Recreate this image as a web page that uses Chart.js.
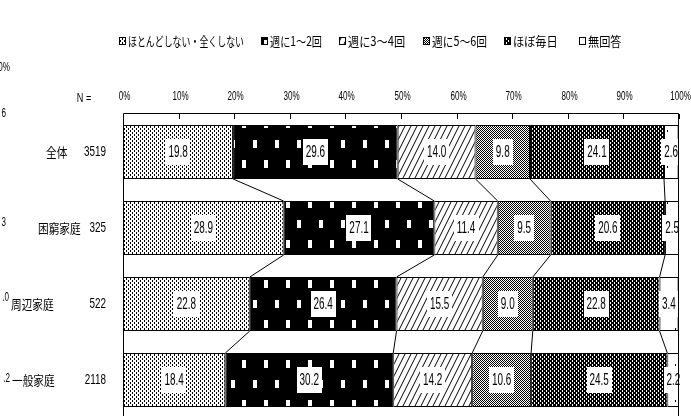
<!DOCTYPE html>
<html>
<head>
<meta charset="utf-8">
<script src="https://cdn.jsdelivr.net/npm/chart.js@4.4.1/dist/chart.umd.min.js"></script>
<style>
html,body{margin:0;padding:0;background:#fff;overflow:hidden}
#wrap{width:691px;height:420px}
</style>
</head>
<body>
<div id="wrap"><canvas id="c" width="691" height="420"></canvas></div>
<script>
// ---- data ----
const categories = ['全体', '困窮家庭', '周辺家庭', '一般家庭'];
const sampleSizes = ['3519', '325', '522', '2118'];
const seriesNames = ['ほとんどしない・全くしない', '週に1～2回', '週に3～4回', '週に5～6回', 'ほぼ毎日', '無回答'];
const neverValues    = [19.8, 28.9, 22.8, 18.4];
const weekly12Values = [29.6, 27.1, 26.4, 30.2];
const weekly34Values = [14.0, 11.4, 15.5, 14.2];
const weekly56Values = [9.8, 9.5, 9.0, 10.6];
const dailyValues    = [24.1, 20.6, 22.8, 24.5];
const noAnswerValues = [2.6, 2.5, 3.4, 2.2];
const tickValues = [0, 10, 20, 30, 40, 50, 60, 70, 80, 90, 100];
const sampleHeader = 'N =';
const edgeFragments = ['0%', '6', '3', '.0', '.2'];

const LATIN = "'Liberation Sans', Arial, sans-serif";
const JP = "'Noto Sans CJK JP', sans-serif";

const mainCtx = document.getElementById('c').getContext('2d');
function makePattern(w, h, bg, fg, paint) {
  const c = document.createElement('canvas');
  c.width = w; c.height = h;
  const g = c.getContext('2d');
  g.fillStyle = bg; g.fillRect(0, 0, w, h);
  g.fillStyle = fg; g.strokeStyle = fg;
  paint(g);
  return mainCtx.createPattern(c, 'repeat');
}
const patterns = [
  makePattern(4, 4, '#fff', '#000', g => { g.fillRect(0, 0, 1, 2); g.fillRect(2, 2, 1, 2); }),
  makePattern(22, 40, '#000', '#fff', g => { g.fillRect(0, 0, 4, 8); g.fillRect(11, 20, 4, 8); }),
  makePattern(6, 12, '#fff', '#000', g => {
    g.lineWidth = 1;
    g.beginPath();
    g.moveTo(-6, 12); g.lineTo(0, 0);
    g.moveTo(0, 12); g.lineTo(6, 0);
    g.moveTo(6, 12); g.lineTo(12, 0);
    g.stroke();
  }),
  makePattern(2, 2, '#fff', '#000', g => { g.fillRect(0, 0, 1, 1); g.fillRect(1, 1, 1, 1); }),
  makePattern(4, 4, '#000', '#fff', g => { g.fillRect(0, 0, 1, 2); g.fillRect(2, 2, 1, 2); }),
  makePattern(16, 36, '#fff', '#000', g => { g.fillRect(3, 4, 1, 2); g.fillRect(11, 22, 1, 2); })
];

const seriesValues = [neverValues, weekly12Values, weekly34Values, weekly56Values, dailyValues, noAnswerValues];

function sText(ctx, txt, x, y, size, sx, align, family) {
  ctx.save();
  ctx.font = size + 'px ' + family;
  ctx.textBaseline = 'middle';
  ctx.fillStyle = '#000';
  ctx.translate(x, y);
  ctx.scale(sx, 1);
  ctx.textAlign = align;
  ctx.fillText(txt, 0, 0);
  ctx.restore();
}
function sWidth(ctx, txt, size, sx, family) {
  ctx.save(); ctx.font = size + 'px ' + family;
  const w = ctx.measureText(txt).width * sx; ctx.restore(); return w;
}

const decorPlugin = {
  id: 'decor',
  afterDatasetsDraw(chart) {
    const ctx = chart.ctx;
    const xs = chart.scales.x;
    const ys = chart.scales.y;
    const area = chart.chartArea;
    const metas = seriesValues.map((_, i) => chart.getDatasetMeta(i));

    // connector lines between bars
    ctx.save();
    ctx.strokeStyle = '#000';
    ctx.lineWidth = 1;
    for (let c = 0; c < categories.length - 1; c++) {
      for (let s = 0; s < seriesValues.length - 1; s++) {
        const a = metas[s].data[c], b = metas[s].data[c + 1];
        ctx.beginPath();
        ctx.moveTo(a.x, a.y + a.height / 2);
        ctx.lineTo(b.x, b.y - b.height / 2);
        ctx.stroke();
      }
    }
    ctx.restore();

    // value labels
    metas.forEach((meta, s) => {
      meta.data.forEach((el, c) => {
        const txt = seriesValues[s][c].toFixed(1);
        const cx = (el.x + el.base) / 2;
        const w = sWidth(ctx, txt, 16, 0.62, LATIN) + 6;
        ctx.fillStyle = '#fff';
        ctx.fillRect(Math.round(cx - w / 2), Math.round(el.y - 13), Math.round(w), 26);
        sText(ctx, txt, cx, el.y + 1, 16, 0.62, 'center', LATIN);
      });
    });

    // frame
    ctx.save();
    ctx.strokeStyle = '#000';
    ctx.lineWidth = 1;
    ctx.beginPath();
    ctx.moveTo(area.left + 0.5, area.bottom + 5);
    ctx.lineTo(area.left + 0.5, area.top - 0.5);
    ctx.lineTo(area.right - 0.5, area.top - 0.5);
    ctx.lineTo(area.right - 0.5, area.bottom + 5);
    ctx.stroke();
    // inward tick marks + tick labels
    tickValues.forEach(v => {
      const px = Math.round(xs.getPixelForValue(v)) + 0.5;
      ctx.beginPath();
      ctx.moveTo(px, area.top);
      ctx.lineTo(px, area.top + 5);
      ctx.stroke();
      sText(ctx, v + '%', px + 1, area.top - 18, 13, 0.62, 'center', LATIN);
    });
    ctx.restore();

    // category + N labels
    sText(ctx, sampleHeader, 84, area.top - 16, 13, 0.7, 'center', LATIN);
    const catLeft = [46, 38, 11, 12];
    categories.forEach((cat, i) => {
      const y = ys.getPixelForValue(i);
      sText(ctx, cat, catLeft[i], y, 13, 0.82, 'left', JP);
      sText(ctx, sampleSizes[i], 106, y, 15, 0.66, 'right', LATIN);
    });

    // fragments of neighbouring chart at the left edge
    const fragY = [67, 113, 222, 297, 378];
    const fragR = [10, 6, 6, 9, 10];
    edgeFragments.forEach((t, i) => sText(ctx, t, fragR[i], fragY[i], 13, 0.62, 'right', LATIN));

    // legend
    const starts = [119, 261, 339, 423, 504, 579, 640];
    seriesNames.forEach((name, i) => {
      const bx = starts[i], by = 37;
      ctx.fillStyle = patterns[i];
      ctx.fillRect(bx, by, 7, 8);
      ctx.strokeStyle = '#000';
      ctx.lineWidth = 1;
      ctx.strokeRect(bx + 0.5, by + 0.5, 6, 7);
      const slot = starts[i + 1] - bx - 9 - 17;
      const natural = sWidth(ctx, name, 13, 1, JP);
      const sx = Math.min(0.86, slot / natural);
      sText(ctx, name, bx + 9, by + 4, 13, sx, 'left', JP);
    });
  }
};

new Chart(document.getElementById('c'), {
  type: 'bar',
  data: {
    labels: categories,
    datasets: seriesNames.map((name, i) => ({
      label: name,
      data: seriesValues[i],
      backgroundColor: patterns[i],
      borderColor: '#000',
      borderWidth: 1,
      borderSkipped: false,
      barPercentage: 0.71,
      categoryPercentage: 1.0
    }))
  },
  options: {
    indexAxis: 'y',
    responsive: false,
    animation: false,
    devicePixelRatio: 1,
    layout: { padding: { left: 123, right: 12, top: 114, bottom: 2 } },
    plugins: { legend: { display: false }, tooltip: { enabled: false } },
    scales: {
      x: { stacked: true, min: 0, max: 100, position: 'top', display: false },
      y: { stacked: true, display: false }
    }
  },
  plugins: [decorPlugin]
});
</script>
</body>
</html>
